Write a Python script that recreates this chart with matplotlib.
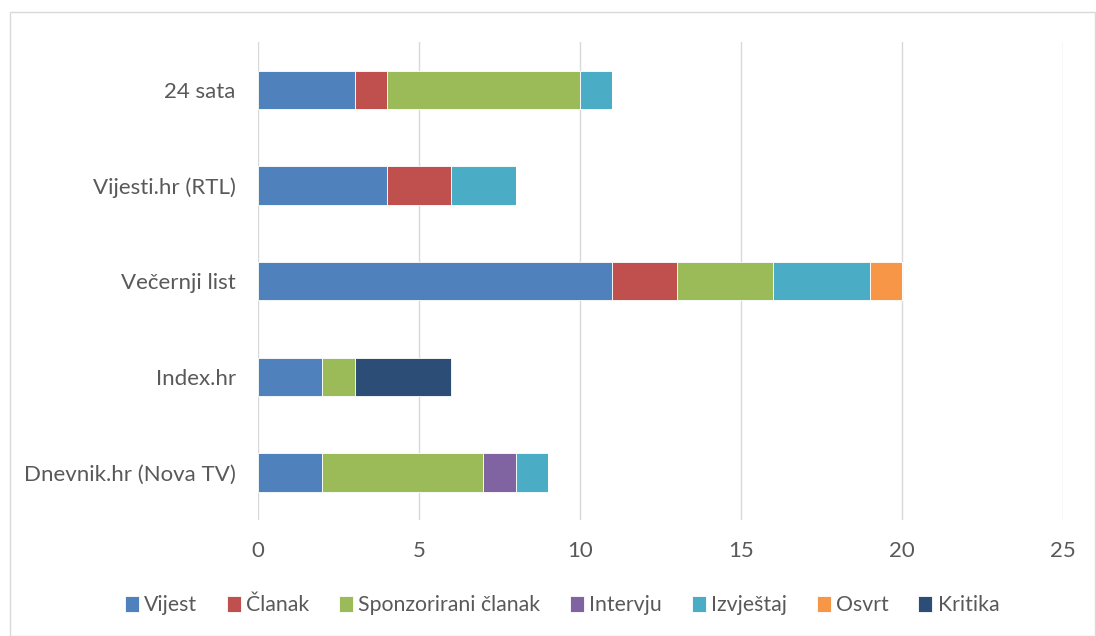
import numpy as np
import matplotlib.pyplot as plt
from matplotlib.patches import Rectangle

outlets = ["Dnevnik.hr (Nova TV)", "Index.hr", "Večernji list", "Vijesti.hr (RTL)", "24 sata"]
types = ["Vijest", "Članak", "Sponzorirani članak", "Intervju", "Izvještaj", "Osvrt", "Kritika"]

# values per type, in order of outlets (bottom to top)
vijest = [2, 2, 11, 4, 3]
clanak = [0, 0, 2, 2, 1]
sponzorirani = [5, 1, 3, 0, 6]
intervju = [1, 0, 0, 0, 0]
izvjestaj = [1, 0, 3, 2, 1]
osvrt = [0, 0, 1, 0, 0]
kritika = [0, 3, 0, 0, 0]

series = [vijest, clanak, sponzorirani, intervju, izvjestaj, osvrt, kritika]
colors = ["#4F81BD", "#C0504D", "#9BBB59", "#8064A2", "#4BACC6", "#F79646", "#2C4D75"]

plt.rcParams['font.family'] = ['Lato', 'DejaVu Sans']
text_color = "#595959"

fig = plt.figure(figsize=(10.96, 6.36), dpi=100)
ax = fig.add_axes([0.2354, 0.182, 0.7346, 0.752])

y = np.arange(len(outlets))
left = np.zeros(len(outlets))
for name, vals, col in zip(types, series, colors):
    vals = np.array(vals, dtype=float)
    ax.barh(y, vals, left=left, height=0.4, color=col, edgecolor="white",
            linewidth=0.6, label=name, zorder=3)
    left += vals

ax.set_xlim(0, 25)
ax.set_ylim(-0.5, len(outlets) - 0.5)
ax.set_xticks(range(0, 26, 5))
ax.set_yticks(y)
ax.set_yticklabels(outlets)
ax.grid(axis="x", color="#D9D9D9", linewidth=1, zorder=0)
for s in ax.spines.values():
    s.set_visible(False)
ax.tick_params(axis="both", length=0, colors=text_color, labelsize=16)
ax.tick_params(axis="x", pad=15)
ax.tick_params(axis="y", pad=16)

leg = fig.legend(loc="center", bbox_to_anchor=(0.513, 0.048), ncol=7, frameon=False,
                 fontsize=15.3, handlelength=0.65, handleheight=0.75, handletextpad=0.25,
                 columnspacing=1.4, labelcolor=text_color)

fig.patches.append(Rectangle((0.009, 0.0), 0.99, 0.981, transform=fig.transFigure,
                             fill=False, edgecolor="#D9D9D9", linewidth=1))

fig.savefig("out.png", dpi=100)
